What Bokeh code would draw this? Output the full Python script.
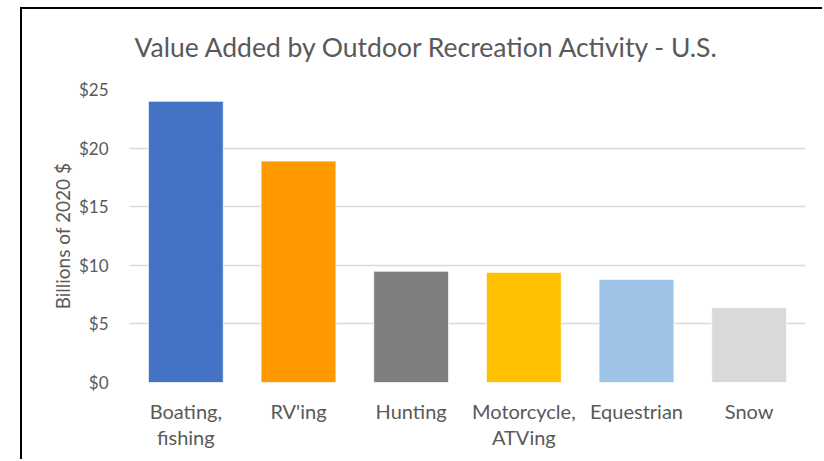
from bokeh.plotting import figure
from bokeh.models import Range1d, FixedTicker, NumeralTickFormatter, InlineStyleSheet
from bokeh.embed import file_html
from bokeh.resources import INLINE

categories = ["Boating,\nfishing", "RV'ing", "Hunting", "Motorcycle,\nATVing", "Equestrian", "Snow"]
values = [24.0, 18.9, 9.5, 9.4, 8.8, 6.4]
colors = ["#4472C4", "#FF9900", "#7F7F7F", "#FFC000", "#9DC3E6", "#D9D9D9"]
y_ticks = [0, 5, 10, 15, 20, 25]

FONT = "Lato"
TXT = "#595959"

p = figure(x_range=categories, y_range=Range1d(0, 25), width=802, height=458,
           output_backend="svg", toolbar_location=None,
           min_border_left=109, min_border_right=17, min_border_top=88, min_border_bottom=77)

p.stylesheets = [InlineStyleSheet(css=(
    ":host { position: relative; left: 20px; top: 1px; "
    "box-shadow: inset 0 6px 0 0 #ffffff, inset 0 8px 0 0 #000000, inset 2px 0 0 0 #000000; }"
))]

p.vbar(x=categories, top=values, width=0.665, fill_color=colors, line_color="#ffffff", line_width=0.8)

p.title.text = "Value Added by Outdoor Recreation Activity - U.S."
p.title.text_font = FONT
p.title.text_font_size = "26.5px"
p.title.text_font_style = "normal"
p.title.text_color = TXT
p.title.align = "left"
p.title.offset = 5
p.title.standoff = 54

p.outline_line_color = None
p.background_fill_color = "#ffffff"
p.border_fill_alpha = 0

p.xgrid.grid_line_color = None
p.ygrid.grid_line_color = "#D9D9D9"
p.ygrid.grid_line_width = 1.5
p.yaxis.ticker = FixedTicker(ticks=y_ticks)
p.yaxis.formatter = NumeralTickFormatter(format="$0")

for ax in (p.xaxis[0], p.yaxis[0]):
    ax.axis_line_color = None
    ax.major_tick_line_color = None
    ax.minor_tick_line_color = None
    ax.major_label_text_font = FONT
    ax.major_label_text_color = TXT

p.yaxis.major_label_text_font_size = "17px"
p.yaxis.major_label_standoff = 15
p.yaxis.axis_label = "Billions of 2020 $"
p.yaxis.axis_label_text_font = FONT
p.yaxis.axis_label_text_font_size = "19px"
p.yaxis.axis_label_text_font_style = "normal"
p.yaxis.axis_label_text_color = TXT
p.yaxis.axis_label_standoff = 2

p.xaxis.major_label_text_font_size = "20px"
p.xaxis.major_label_text_line_height = 1.1
p.xaxis.major_label_standoff = 10
p.x_range.range_padding = 0

open("out.html", "w").write(file_html(p, INLINE))
